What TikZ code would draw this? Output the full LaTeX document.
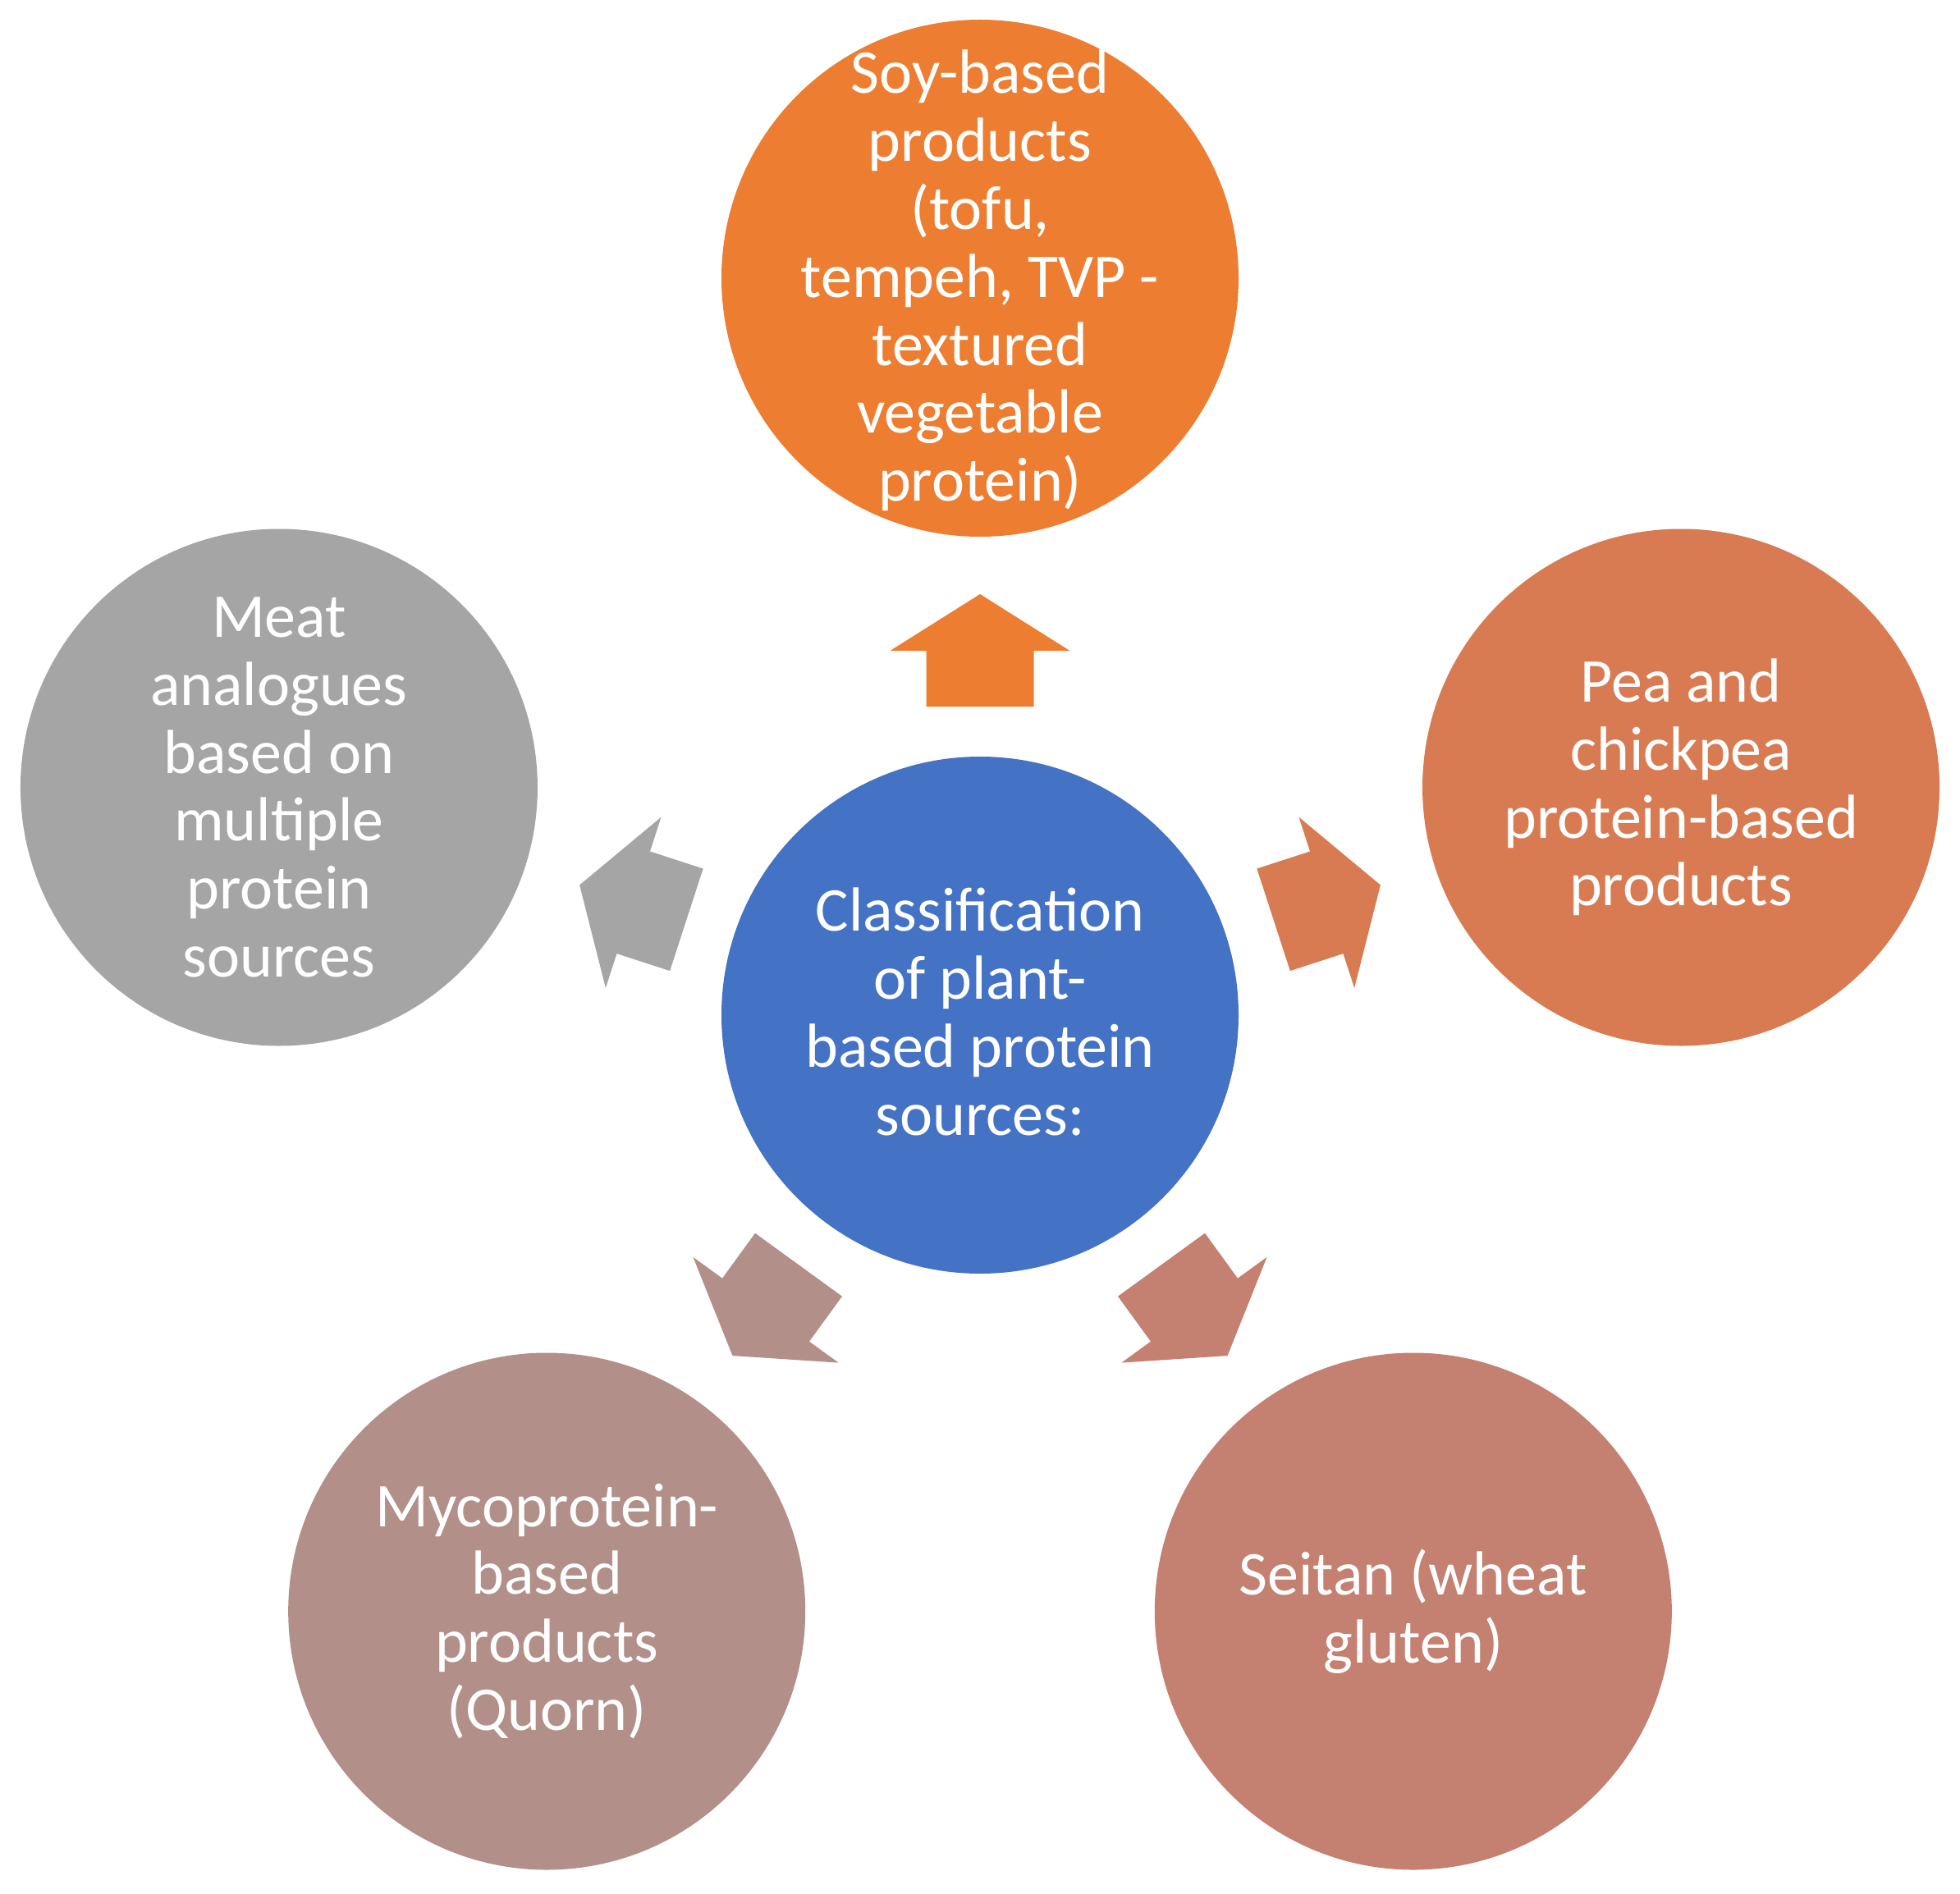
\documentclass[tikz,border=0pt]{standalone}
\usepackage{fontspec}
\setmainfont{Carlito}
\usetikzlibrary{calc}
\definecolor{cblue}{HTML}{4472C4}
\definecolor{corange}{HTML}{ED7D31}
\definecolor{cpea}{HTML}{D87B52}
\definecolor{cseitan}{HTML}{C48070}
\definecolor{cmyco}{HTML}{B28F89}
\definecolor{cgray}{HTML}{A5A5A5}
\tikzset{
  bubble/.style={circle, minimum size=6.30cm, inner sep=0pt},
  bubbletext/.style={inner sep=0pt, text=white, align=center,
    font=\fontsize{21.6}{23.55}\selectfont},
}
\newcommand{\blockarrow}[2]{%
  \begin{scope}[shift={(hub.center)}, rotate=#1]
    \fill[#2] (3.76,-0.655) -- (4.44,-0.655) -- (4.44,-1.095) -- (5.13,0) -- (4.44,1.095) -- (4.44,0.655) -- (3.76,0.655) -- cycle;
  \end{scope}}
\begin{document}
\begin{tikzpicture}
\useasboundingbox (0,0) rectangle (23.88,-23.07);
\node[bubble, fill=cblue] (hub) at (11.94,-12.37) {};
\node[bubble, fill=corange] (soy) at ($(hub.center)+(90:8.98)$) {};
\node[bubble, fill=cpea] (pea) at ($(hub.center)+(18:8.98)$) {};
\node[bubble, fill=cseitan] (seitan) at ($(hub.center)+(-54:8.98)$) {};
\node[bubble, fill=cmyco] (myco) at ($(hub.center)+(-126:8.98)$) {};
\node[bubble, fill=cgray] (meat) at ($(hub.center)+(162:8.98)$) {};
\node[bubbletext] (hubtxt) at ($(hub.center)+(0,0.04)$) {Classification\\of plant-\\based protein\\sources:};
\node[bubbletext] (soytxt) at ($(soy.center)+(0,-0.03)$) {Soy-based\\products\\(tofu,\\tempeh, TVP -\\textured\\vegetable\\protein)};
\node[bubbletext] (peatxt) at (pea.center) {Pea and\\chickpea\\protein-based\\products};
\node[bubbletext] (seitantxt) at (seitan.center) {Seitan (wheat\\gluten)};
\node[bubbletext] (mycotxt) at (myco.center) {Mycoprotein-\\based\\products\\(Quorn)};
\node[bubbletext] (meattxt) at (meat.center) {Meat\\analogues\\based on\\multiple\\protein\\sources};
\blockarrow{90}{corange}
\blockarrow{18}{cpea}
\blockarrow{-54}{cseitan}
\blockarrow{-126}{cmyco}
\blockarrow{162}{cgray}
\end{tikzpicture}
\end{document}
